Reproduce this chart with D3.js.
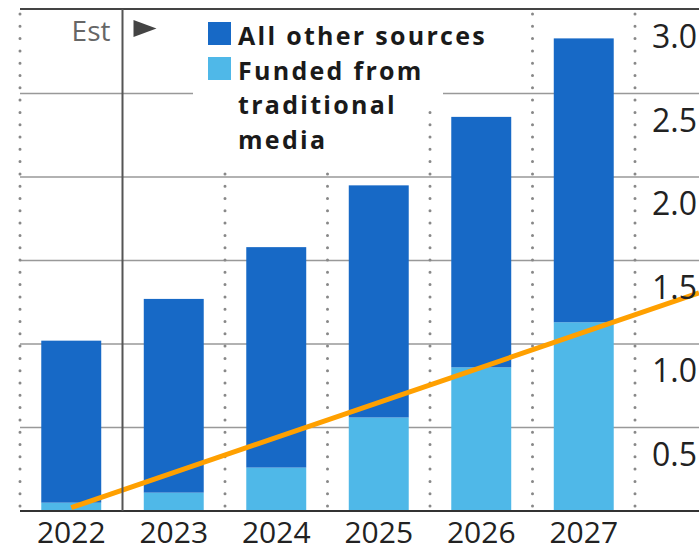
<!DOCTYPE html>
<html>
<head>
<meta charset="utf-8">
<script src="https://cdn.jsdelivr.net/npm/d3@7"></script>
<style>
  body { margin: 0; background: #fff; }
  svg { display: block; }
</style>
</head>
<body>
<div id="chart"></div>
<script>
// data
let years = ['2022', '2023', '2024', '2025', '2026', '2027']
let funded = [0.05, 0.11, 0.26, 0.56, 0.86, 1.13]
let other = [0.97, 1.16, 1.32, 1.39, 1.50, 1.70]
let yTicks = [0.5, 1.0, 1.5, 2.0, 2.5, 3.0]
let trendYears = ['2022', '2027']
let trendValues = [0.02, 1.07]
let legendLabels = [['All other sources'], ['Funded from', 'traditional', 'media']]

let width = 699, height = 551

let darkBlue = '#1769c6', lightBlue = '#4fb8e8', orange = '#ffa000'

let svg = d3.select('#chart')
.append('svg')
.attr('width', width)
.attr('height', height)

let x = d3.scaleBand()
.domain(years)
.range([20, 635])
.paddingInner(0.415)
.paddingOuter(0.2075)

let y = d3.scaleLinear()
.domain([0, 3])
.range([511, 10])

let font = '"Open Sans", sans-serif'

// horizontal gridlines
svg.append('g')
.selectAll('line')
.data(yTicks.slice(0, -1))
.join('line')
.attr('x1', 20).attr('x2', width)
.attr('y1', d => y(d)).attr('y2', d => y(d))
.style('stroke', '#999')
.style('stroke-width', 1.5)

// column separators
let step = x.step()
let seps = years.map(d => x(d) - step * x.paddingInner() / 2)
seps.push(x(years[years.length - 1]) + x.bandwidth() + step * x.paddingInner() / 2)

svg.append('g')
.selectAll('line')
.data(seps.filter((d, i) => i != 1))
.join('line')
.attr('x1', d => d).attr('x2', d => d)
.attr('y1', y(3) + 4).attr('y2', y(0))
.style('stroke', '#888')
.style('stroke-width', 3)
.style('stroke-linecap', 'round')
.style('stroke-dasharray', '0 12.3')

// legend backing
svg.append('path')
.attr('d', 'M193,11H443V105H425V166H193Z')
.attr('fill', '#fff')

let legend = svg.append('g').attr('class', 'legend')

legend.selectAll('rect')
.data([darkBlue, lightBlue])
.join('rect')
.attr('x', 208)
.attr('y', (d, i) => 22 + i * 35)
.attr('width', 23).attr('height', 23)
.attr('fill', d => d)

let legendText = legend.selectAll('text')
.data(legendLabels.flat())
.join('text')
.attr('x', 238)
.attr('y', (d, i) => 45 + i * 34.5)
.text(d => d)
.style('font-family', font)
.style('font-weight', 700)
.style('font-size', '25px')
.style('fill', '#1a1a1a')

// widen the letters a touch so the first line spans about 249px like the original
let firstLen = legendText.node().getComputedTextLength()
let spacing = (249 - firstLen) / legendLabels[0][0].length
legendText.style('letter-spacing', spacing + 'px')

// stacked bars
let stackData = years.map((d, i) => ({ year: d, funded: funded[i], other: other[i] }))
let series = d3.stack().keys(['funded', 'other'])(stackData)
let colors = { funded: lightBlue, other: darkBlue }

svg.append('g')
.selectAll('g')
.data(series)
.join('g')
.attr('fill', d => colors[d.key])
.selectAll('rect')
.data(d => d)
.join('rect')
.attr('x', d => x(d.data.year))
.attr('width', x.bandwidth())
.attr('y', d => y(d[1]))
.attr('height', d => y(d[0]) - y(d[1]))

// trend line, carried on to the right edge
let tx = trendYears.map(d => x(d) + x.bandwidth() / 2)
let ty = trendValues.map(d => y(d))
let slope = (ty[1] - ty[0]) / (tx[1] - tx[0])
let trendPts = [[tx[0], ty[0]], [width, ty[0] + slope * (width - tx[0])]]

svg.append('path')
.attr('d', d3.line()(trendPts))
.style('stroke', orange)
.style('stroke-width', 5)
.style('fill', 'none')

// frame: top border, baseline, estimate divider
svg.append('line')
.attr('x1', 20).attr('x2', width)
.attr('y1', y(3) - 1).attr('y2', y(3) - 1)
.style('stroke', '#444').style('stroke-width', 2)

svg.append('line')
.attr('x1', 20).attr('x2', width)
.attr('y1', y(0)).attr('y2', y(0))
.style('stroke', '#333').style('stroke-width', 2)

svg.append('line')
.attr('x1', seps[1]).attr('x2', seps[1])
.attr('y1', y(3) - 1).attr('y2', y(0))
.style('stroke', '#555').style('stroke-width', 2)

svg.append('text')
.attr('x', seps[1] - 12)
.attr('y', 41)
.attr('text-anchor', 'end')
.text('Est')
.style('font-family', font)
.style('font-size', '28px')
.style('fill', '#666')

svg.append('path')
.attr('d', d3.line()([[seps[1] + 11, 20], [seps[1] + 34, 28.5], [seps[1] + 11, 37]]))
.attr('fill', '#444')

// right axis labels, hung below each gridline
svg.append('g')
.selectAll('text')
.data(yTicks)
.join('text')
.attr('x', 652)
.attr('y', d => y(d) + 38)
.text(d => d3.format('.1f')(d))
.style('font-family', font)
.style('font-size', '32px')
.style('fill', '#222')

// year labels
let xAxis = svg.append('g')
.attr('transform', `translate(0, ${y(0)})`)
.call(d3.axisBottom(x).tickSize(0).tickPadding(32))

xAxis.select('.domain').remove()
xAxis.selectAll('text')
.attr('dy', 0)
.style('font-family', font)
.style('font-size', '30px')
.style('fill', '#222')
</script>
</body>
</html>
